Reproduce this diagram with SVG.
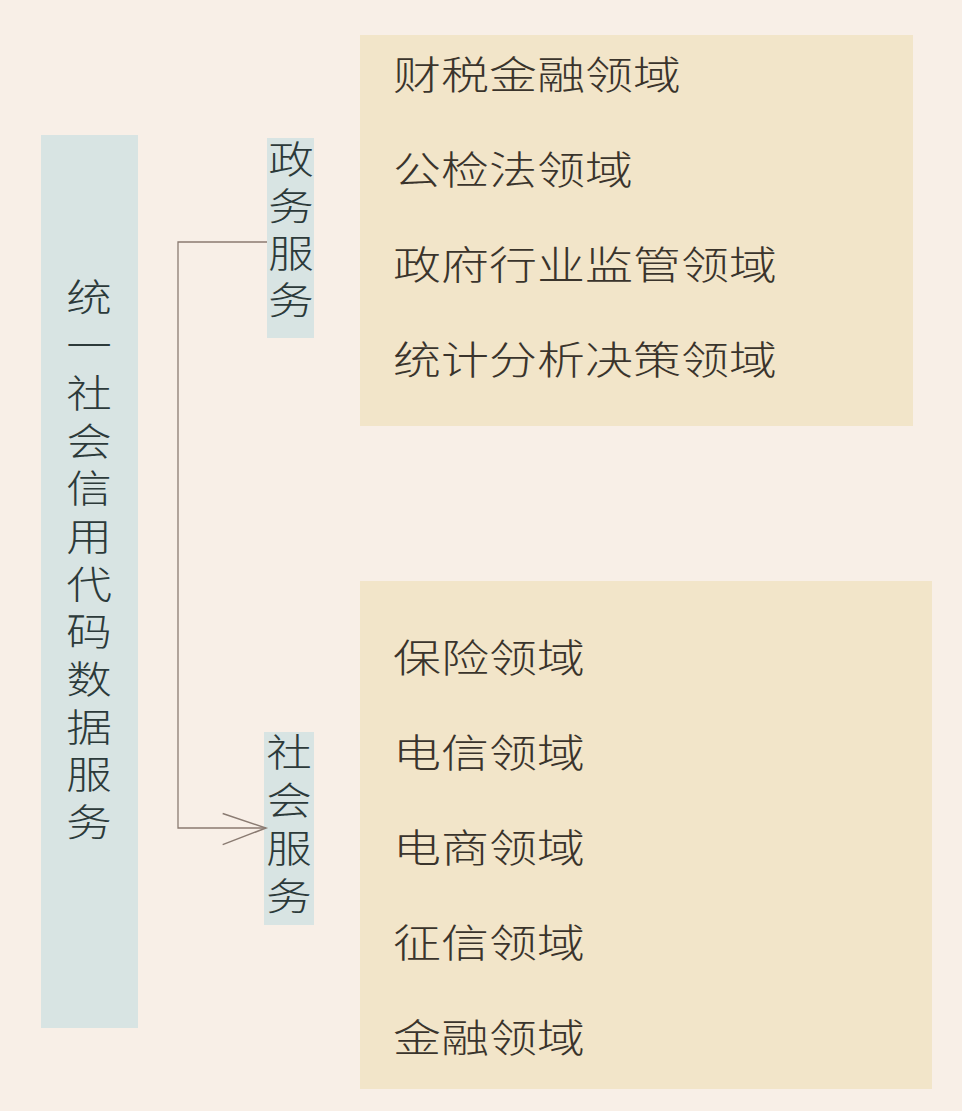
<svg xmlns="http://www.w3.org/2000/svg" width="962" height="1111" viewBox="0 0 962 1111">
<style>
.bg{fill:#f8efe7}
.blue{fill:#d8e4e3}
.tan{fill:#f2e5c9}
.t{font-family:"Noto Sans CJK SC","Noto Sans CJK JP",sans-serif;font-weight:300;font-size:39px;fill:#3a342c;dominant-baseline:central}
.v{font-family:"Noto Sans CJK SC","Noto Sans CJK JP",sans-serif;font-weight:300;font-size:38px;fill:#2c3a3a;writing-mode:vertical-rl;text-orientation:upright;letter-spacing:9.7px}
.conn{fill:none;stroke:#8a7b72;stroke-width:1.3}
</style>
<defs>
<marker id="arrow" markerUnits="userSpaceOnUse" markerWidth="60" markerHeight="40" refX="0" refY="0" viewBox="-42 -18 44 36" orient="auto" overflow="visible">
<path d="M-39,-13 L0,0 L-39,15" fill="none" stroke="#8a7b72" stroke-width="1.3"/>
</marker>
</defs>
<rect class="bg" x="0" y="0" width="962" height="1111"/>

<g id="root">
<rect class="blue" x="41" y="135" width="97" height="893"/>
<text class="v" x="89" y="278" transform="translate(89 0) scale(1.2 1) translate(-89 0)">统一社会信用代码数据服务</text>
</g>

<g id="gov">
<rect class="blue" x="267" y="138" width="47" height="200"/>
<text class="v" x="291" y="140" transform="translate(291 0) scale(1.2 1) translate(-291 0)" style="letter-spacing:9px">政务服务</text>
</g>

<g id="social">
<rect class="blue" x="264" y="732" width="50" height="193"/>
<text class="v" x="289" y="733" transform="translate(289 0) scale(1.2 1) translate(-289 0)">社会服务</text>
</g>

<g id="gov-fields">
<rect class="tan" x="360" y="35" width="553" height="391"/>
<text class="t" x="393" y="72" textLength="288" lengthAdjust="spacingAndGlyphs">财税金融领域</text>
<text class="t" x="393" y="167" textLength="240" lengthAdjust="spacingAndGlyphs">公检法领域</text>
<text class="t" x="393" y="262" textLength="384" lengthAdjust="spacingAndGlyphs">政府行业监管领域</text>
<text class="t" x="393" y="357" textLength="384" lengthAdjust="spacingAndGlyphs">统计分析决策领域</text>
</g>

<g id="social-fields">
<rect class="tan" x="360" y="581" width="572" height="508"/>
<text class="t" x="393" y="655" textLength="192" lengthAdjust="spacingAndGlyphs">保险领域</text>
<text class="t" x="393" y="750" textLength="192" lengthAdjust="spacingAndGlyphs">电信领域</text>
<text class="t" x="393" y="845" textLength="192" lengthAdjust="spacingAndGlyphs">电商领域</text>
<text class="t" x="393" y="940" textLength="192" lengthAdjust="spacingAndGlyphs">征信领域</text>
<text class="t" x="393" y="1035" textLength="192" lengthAdjust="spacingAndGlyphs">金融领域</text>
</g>

<g id="connectors">
<path class="conn" d="M267,242 H178 V828 H266" marker-end="url(#arrow)"/>
</g>
</svg>
